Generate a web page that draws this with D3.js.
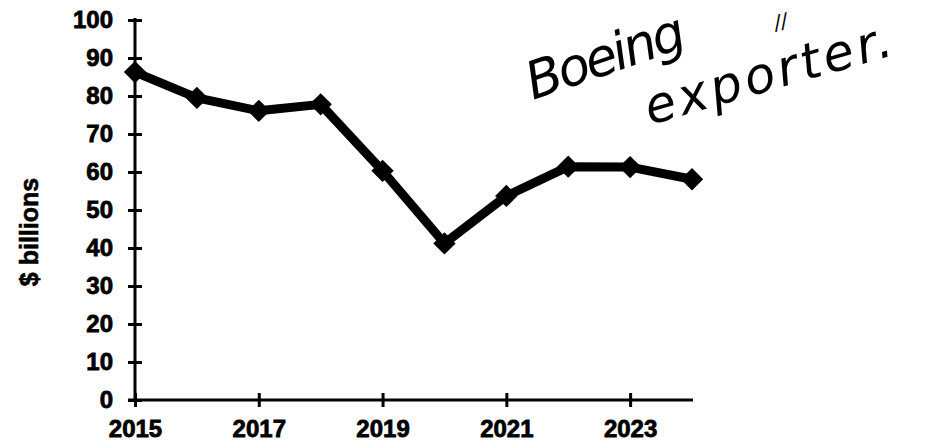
<!DOCTYPE html>
<html>
<head>
<meta charset="utf-8">
<script src="https://cdn.jsdelivr.net/npm/d3@7"></script>
<style>
  body { margin: 0; background: #fff; }
  svg { display: block; }
</style>
</head>
<body>
<div id="chart"></div>
<script>
// data
let years = [2015, 2016, 2017, 2018, 2019, 2020, 2021, 2022, 2023, 2024];
let exportsBn = [86.3, 79.5, 76.1, 77.8, 60.3, 41.2, 53.7, 61.4, 61.3, 58.1];
let yTicks = [0, 10, 20, 30, 40, 50, 60, 70, 80, 90, 100];
let xTicks = [2015, 2017, 2019, 2021, 2023];

let svgWidth = 927;
let svgHeight = 448;

let svg = d3.select("#chart")
  .append("svg")
  .attr("width", svgWidth)
  .attr("height", svgHeight);

const x = d3.scaleLinear().domain([2015, 2024]).range([135, 692]);
const y = d3.scaleLinear().domain([0, 100]).range([400, 20]);

// y axis
let yAxis = svg.append("g")
  .attr("transform", `translate(${x(2015)},0)`)
  .call(d3.axisLeft(y).tickValues(yTicks).tickSize(7).tickPadding(15).tickSizeOuter(0));
yAxis.select(".domain").remove();
yAxis.selectAll(".tick line").attr("x1", 7).attr("stroke", "#000").attr("stroke-width", 3);

// x axis
let xAxis = svg.append("g")
  .attr("transform", `translate(0,${y(0)})`)
  .call(d3.axisBottom(x).tickValues(xTicks).tickFormat(d3.format("d")).tickSize(7).tickPadding(13).tickSizeOuter(0));
xAxis.select(".domain").remove();
xAxis.selectAll(".tick line").attr("y1", -7).attr("stroke", "#000").attr("stroke-width", 3);

svg.selectAll(".tick text")
  .attr("font-family", "Liberation Sans, Arial, sans-serif")
  .attr("font-weight", "bold")
  .attr("font-size", 24)
  .attr("fill", "#000")
  .attr("stroke", "#000")
  .attr("stroke-width", 0.8);

// axis lines
svg.append("line")
  .attr("x1", x(2015)).attr("x2", x(2015))
  .attr("y1", y(100) - 2).attr("y2", y(0) + 1)
  .attr("stroke", "#000").attr("stroke-width", 3);
svg.append("line")
  .attr("x1", x(2015) - 7).attr("x2", x(2024) + 1)
  .attr("y1", y(0)).attr("y2", y(0))
  .attr("stroke", "#000").attr("stroke-width", 3);

// y label
svg.append("text")
  .attr("transform", `translate(38,${(y(0) + y(100)) / 2 + 22}) rotate(-90)`)
  .attr("text-anchor", "middle")
  .style("font-family", "Liberation Sans, Arial, sans-serif")
  .style("font-weight", "bold")
  .style("font-size", "25px")
  .attr("stroke", "#000")
  .attr("stroke-width", 0.6)
  .text("$ billions");

// the line
let line = d3.line()
  .x((d, i) => x(years[i]))
  .y(d => y(d));

svg.append("path")
  .datum(exportsBn)
  .attr("d", line)
  .attr("fill", "none")
  .attr("stroke", "#000")
  .attr("stroke-width", 9)
  .attr("stroke-linejoin", "round");

// diamond markers
svg.selectAll(".marker")
  .data(exportsBn)
  .enter()
  .append("path")
  .attr("class", "marker")
  .attr("d", d3.symbol(d3.symbolSquare, 250))
  .attr("transform", (d, i) => `translate(${x(years[i])},${y(d)}) rotate(45)`)
  .attr("fill", "#000");

// handwritten note
let hand = svg.append("g")
  .style("font-family", "DejaVu Sans, sans-serif")
  .style("font-style", "italic")
  .style("font-weight", "300")
  .attr("fill", "#000");

hand.append("text")
  .attr("transform", "translate(533,100) rotate(-19)")
  .style("font-size", "52px")
  .attr("textLength", 165)
  .text("Boeing");

hand.append("text")
  .attr("transform", "translate(650,125) rotate(-16)")
  .style("font-size", "50px")
  .attr("textLength", 255)
  .text("exporter.");

hand.append("text")
  .attr("transform", "translate(776,30) rotate(-16)")
  .style("font-size", "20px")
  .text("//");
</script>
</body>
</html>
